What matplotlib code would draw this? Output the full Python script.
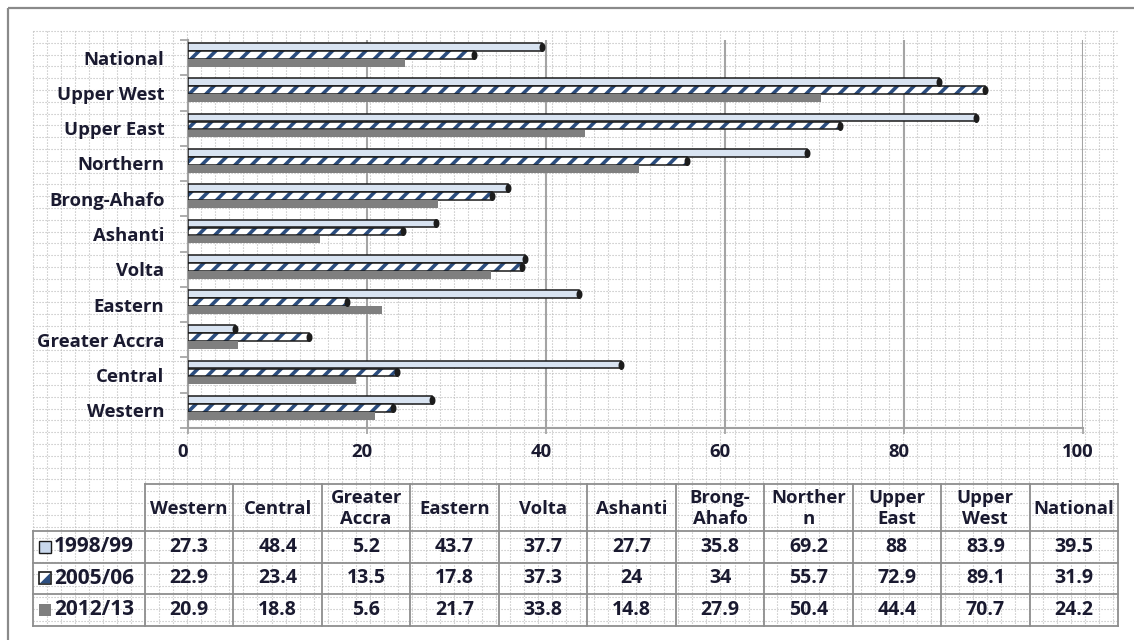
import numpy as np
import matplotlib
matplotlib.use("Agg")
import matplotlib.pyplot as plt
from matplotlib.path import Path
from matplotlib.patches import Rectangle, Polygon
import matplotlib.transforms as mtransforms

# Incidence of poverty (%) by region
regions = ["Western", "Central", "Greater Accra", "Eastern", "Volta", "Ashanti",
           "Brong-Ahafo", "Northern", "Upper East", "Upper West", "National"]
table_headers = ["Western", "Central", "Greater\nAccra", "Eastern", "Volta", "Ashanti",
                 "Brong-\nAhafo", "Norther\nn", "Upper\nEast", "Upper\nWest", "National"]
periods = ["1998/99", "2005/06", "2012/13"]
poverty_1998 = [27.3, 48.4, 5.2, 43.7, 37.7, 27.7, 35.8, 69.2, 88, 83.9, 39.5]
poverty_2005 = [22.9, 23.4, 13.5, 17.8, 37.3, 24, 34, 55.7, 72.9, 89.1, 31.9]
poverty_2012 = [20.9, 18.8, 5.6, 21.7, 33.8, 14.8, 27.9, 50.4, 44.4, 70.7, 24.2]
x_ticks = [0, 20, 40, 60, 80, 100]

plt.rcParams['font.family'] = ['Open Sans', 'DejaVu Sans']
plt.rcParams['font.weight'] = 'bold'
plt.rcParams['hatch.linewidth'] = 2.6
TXT = '#1a1a30'
FS = 13.3
W, H = 1134, 640

fig = plt.figure(figsize=(W / 100, H / 100), dpi=100)
fig.patch.set_facecolor('white')

# background layer in pixel coordinates: graph-paper texture, frame, data table
bg = fig.add_axes([0, 0, 1, 1], zorder=0)
bg.set_xlim(0, W)
bg.set_ylim(H, 0)
bg.axis('off')

dot = dict(color='#b8b8b8', lw=0.8, ls=(0, (1, 1.7)), zorder=0)
for gx in np.arange(33, 1118, 14.03):
    bg.plot([gx, gx], [31, 626], **dot)
for gy in np.arange(31, 627, 11.8):
    bg.plot([33, 1117], [gy, gy], **dot)

frame = dict(color='#8a8a8a', lw=1.6, solid_capstyle='butt')
bg.plot([8, 8], [8, H], **frame)
bg.plot([8, W], [8, 8], **frame)

# ---- chart ----
ax = fig.add_axes([188 / W, 1 - 428 / H, (1083 - 188) / W, (428 - 40) / H], zorder=2)
ax.set_facecolor('none')
ax.set_xlim(0, 100)
ax.set_ylim(-0.5, len(regions) - 0.5)

y = np.arange(len(regions))
h = 0.22
offs = [0.30, 0.074, -0.153]

ax.barh(y + offs[0], poverty_1998, height=h, color='#d8e3f1', edgecolor='#1a1a1a', lw=1.1, zorder=3)
ax.barh(y + offs[1], poverty_2005, height=h, color='white', edgecolor='#2c4e80', hatch='//', lw=0, zorder=3)
ax.barh(y + offs[1], poverty_2005, height=h, fill=False, edgecolor='#1a1a1a', lw=1.1, zorder=3)
ax.barh(y + offs[2], poverty_2012, height=h, color='#7f7f7f', lw=0, zorder=3)

# dark rounded caps at the bar ends
t = np.linspace(0, 2 * np.pi, 41)
cap = Path(np.column_stack([0.6 * np.cos(t), np.sin(t)]), closed=True)
ax.scatter(poverty_1998, y + offs[0], marker=cap, s=30, color='#1c1c1c', zorder=4)
ax.scatter(poverty_2005, y + offs[1], marker=cap, s=30, color='#1c1c1c', zorder=4)

ax.set_xticks(x_ticks)
ax.grid(axis='x', color='#a4a4a4', lw=1.5)
ax.set_axisbelow(True)
for s in ['top', 'right']:
    ax.spines[s].set_visible(False)
for s in ['left', 'bottom']:
    ax.spines[s].set_color('#a0a0a0')
    ax.spines[s].set_linewidth(1.5)

ax.set_yticks(y)
ax.set_yticklabels(regions, fontsize=FS, fontweight='bold', color=TXT)
ax.tick_params(axis='y', which='major', length=0, pad=17)
ax.set_yticks(np.arange(-0.5, len(regions), 1), minor=True)
ax.tick_params(axis='y', which='minor', length=6, color='#a0a0a0', width=1.2)
ax.tick_params(axis='x', length=4, color='#a0a0a0', width=1.2, pad=7,
               labelsize=FS, labelcolor=TXT)
shift = mtransforms.ScaledTranslation(-0.05, 0, fig.dpi_scale_trans)
for lab in ax.get_xticklabels():
    lab.set_fontweight('bold')
    lab.set_transform(lab.get_transform() + shift)

# ---- data table ----
tx0, tx1 = 145, 1118
lx0 = 33
cw = (tx1 - tx0) / len(regions)
hy0, hy1 = 484, 531
rh = 31.5
rows_y = [hy1 + k * rh for k in range(4)]
line = dict(color='#8e8e8e', lw=1.3, solid_capstyle='projecting', zorder=2)

bg.plot([tx0, tx1], [hy0, hy0], **line)
for ry in rows_y:
    bg.plot([lx0, tx1], [ry, ry], **line)
bg.plot([lx0, lx0], [hy1, rows_y[-1]], **line)
for k in range(len(regions) + 1):
    xk = tx0 + k * cw
    bg.plot([xk, xk], [hy0, rows_y[-1]], **line)

for k, head in enumerate(table_headers):
    bg.text(tx0 + (k + 0.5) * cw, (hy0 + hy1) / 2 + 1, head, ha='center', va='center',
            fontsize=FS, fontweight='bold', color=TXT, linespacing=1.2, zorder=3)

series = [poverty_1998, poverty_2005, poverty_2012]
for r, (name, vals) in enumerate(zip(periods, series)):
    cy = (rows_y[r] + rows_y[r + 1]) / 2
    bg.text(54, cy, name, ha='left', va='center', fontsize=15, fontweight='bold',
            color=TXT, zorder=3)
    for k, v in enumerate(vals):
        bg.text(tx0 + (k + 0.5) * cw, cy, f"{v:g}", ha='center', va='center',
                fontsize=14, fontweight='bold', color=TXT, zorder=3)

# legend keys inside the row-label cells
def key_box(cy):
    return (39, cy - 6), 12, 12

c0 = (rows_y[0] + rows_y[1]) / 2
bg.add_patch(Rectangle(*key_box(c0), facecolor='#c9d8ec', edgecolor='#1a1a1a', lw=1.0, zorder=3))
c1 = (rows_y[1] + rows_y[2]) / 2
bg.add_patch(Rectangle(*key_box(c1), facecolor='white', edgecolor='#1a1a1a', lw=1.2, zorder=3))
bg.add_patch(Polygon([(40, c1 + 5), (50, c1 - 5), (50, c1 + 5)], closed=True,
                     facecolor='#2c4e80', lw=0, zorder=3))
c2 = (rows_y[2] + rows_y[3]) / 2
bg.add_patch(Rectangle(*key_box(c2), facecolor='#7f7f7f', lw=0, zorder=3))

fig.savefig('out.png', dpi=100)
